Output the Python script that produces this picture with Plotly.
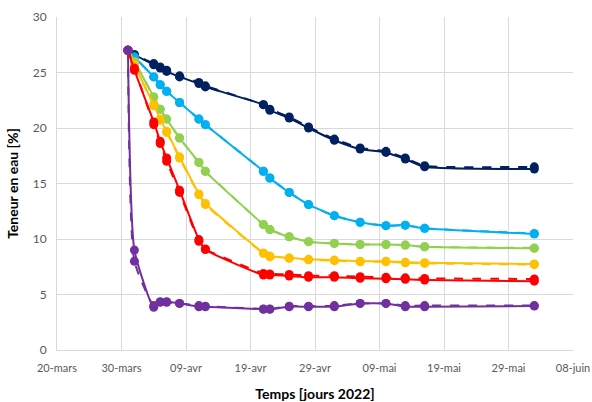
import plotly.graph_objects as go

# Measurement dates (2022)
dates = ['2022-03-31', '2022-04-01', '2022-04-04', '2022-04-05', '2022-04-06',
         '2022-04-08', '2022-04-11', '2022-04-12', '2022-04-21', '2022-04-22',
         '2022-04-25', '2022-04-28', '2022-05-02', '2022-05-06', '2022-05-10',
         '2022-05-13', '2022-05-16', '2022-06-02']

# Water content [%] - solid series
navy_a   = [27.0, 26.6, 25.7, 25.4, 25.1, 24.6, 24.0, 23.7, 22.1, 21.6, 20.9, 20.0, 18.9, 18.1, 17.8, 17.2, 16.5, 16.3]
blue_a   = [27.0, 26.4, 24.6, 23.9, 23.3, 22.3, 20.8, 20.3, 16.1, 15.5, 14.2, 13.1, 12.1, 11.5, 11.2, 11.25, 10.96, 10.45]
green_a  = [27.0, 26.0, 22.8, 21.7, 20.8, 19.1, 16.9, 16.1, 11.3, 10.85, 10.2, 9.76, 9.6, 9.5, 9.5, 9.45, 9.3, 9.16]
yellow_a = [27.0, 25.7, 22.1, 20.8, 19.7, 17.4, 14.05, 13.2, 8.75, 8.47, 8.3, 8.17, 8.1, 8.0, 8.0, 7.9, 7.86, 7.75]
red_a    = [27.0, 25.2, 20.55, 18.8, 17.3, 14.4, 9.95, 9.05, 6.76, 6.76, 6.67, 6.55, 6.55, 6.46, 6.42, 6.37, 6.3, 6.2]
purple_a = [27.0, 9.0, 3.85, 4.35, 4.35, 4.2, 3.9, 3.9, 3.67, 3.67, 3.9, 3.9, 3.9, 4.2, 4.2, 3.9, 3.9, 3.96]

# Water content [%] - dashed (replicate) series
navy_b   = [27.0, 26.6, 25.8, 25.5, 25.2, 24.7, 24.1, 23.8, 22.1, 21.7, 21.0, 20.1, 19.0, 18.2, 17.9, 17.3, 16.6, 16.5]
blue_b   = [27.0, 26.4, 24.6, 23.9, 23.3, 22.3, 20.8, 20.3, 16.1, 15.5, 14.2, 13.1, 12.1, 11.5, 11.2, 11.25, 10.96, 10.5]
green_b  = [27.0, 26.0, 22.8, 21.7, 20.8, 19.1, 16.9, 16.1, 11.3, 10.85, 10.2, 9.76, 9.6, 9.5, 9.5, 9.45, 9.3, 9.2]
yellow_b = [27.0, 25.7, 22.0, 20.7, 19.6, 17.3, 14.0, 13.1, 8.7, 8.4, 8.25, 8.12, 8.05, 7.95, 7.95, 7.85, 7.8, 7.7]
red_b    = [27.0, 25.4, 20.3, 18.6, 17.0, 14.2, 9.8, 9.1, 6.9, 6.85, 6.8, 6.7, 6.7, 6.6, 6.55, 6.5, 6.45, 6.4]
purple_b = [27.0, 8.0, 4.0, 4.3, 4.3, 4.2, 4.0, 3.95, 3.7, 3.7, 3.95, 3.95, 4.0, 4.2, 4.2, 4.0, 4.0, 4.0]

# Axis ticks
x_tickvals = ['2022-03-20', '2022-03-30', '2022-04-09', '2022-04-19', '2022-04-29',
              '2022-05-09', '2022-05-19', '2022-05-29', '2022-06-08']
x_ticktext = ['20-mars', '30-mars', '09-avr', '19-avr', '29-avr',
              '09-mai', '19-mai', '29-mai', '08-juin']
y_tickvals = [0, 5, 10, 15, 20, 25, 30]

series = [
    ('#002060', navy_a, navy_b),
    ('#00B0F0', blue_a, blue_b),
    ('#92D050', green_a, green_b),
    ('#FFC000', yellow_a, yellow_b),
    ('#FF0000', red_a, red_b),
    ('#7030A0', purple_a, purple_b),
]

fig = go.Figure()
for color, solid, dashed in series:
    fig.add_trace(go.Scatter(
        x=dates, y=solid, mode='lines+markers',
        line=dict(color=color, width=2, shape='spline', smoothing=0.5),
        marker=dict(color=color, size=9),
        showlegend=False, hoverinfo='x+y'))
    fig.add_trace(go.Scatter(
        x=dates, y=dashed, mode='lines+markers',
        line=dict(color=color, width=2, dash='dash', shape='spline', smoothing=0.5),
        marker=dict(color=color, size=9),
        showlegend=False, hoverinfo='x+y'))

font_family = 'Lato, Carlito, Calibri, sans-serif'
fig.update_layout(
    width=592, height=402,
    margin=dict(l=57, r=19, t=17, b=52),
    paper_bgcolor='white', plot_bgcolor='white',
    font=dict(family=font_family, size=11, color='#595959'),
    xaxis=dict(
        type='date', range=['2022-03-20', '2022-06-08'], automargin=False,
        tickmode='array', tickvals=x_tickvals, ticktext=x_ticktext,
        showgrid=True, gridcolor='#D9D9D9', gridwidth=1,
        showline=True, linecolor='#D9D9D9', linewidth=1,
        zeroline=False, ticks='', ticklen=0,
        ticklabelstandoff=8, ticklabeloverflow='allow',
        tickfont=dict(size=11, color='#595959'),
        title=dict(text='<b>Temps [jours 2022]</b>',
                   font=dict(size=14, color='black'), standoff=20),
    ),
    yaxis=dict(
        range=[0, 30], tickmode='array', tickvals=y_tickvals, automargin=False,
        showgrid=True, gridcolor='#D9D9D9', gridwidth=1,
        showline=True, linecolor='#D9D9D9', linewidth=1,
        zeroline=False, ticks='', ticklen=0,
        ticklabelstandoff=7,
        tickfont=dict(size=12, color='#595959'),
        title=dict(text='<b>Teneur en eau [%]</b>',
                   font=dict(size=14, color='black'), standoff=10),
    ),
)

fig.write_html('out.html')
